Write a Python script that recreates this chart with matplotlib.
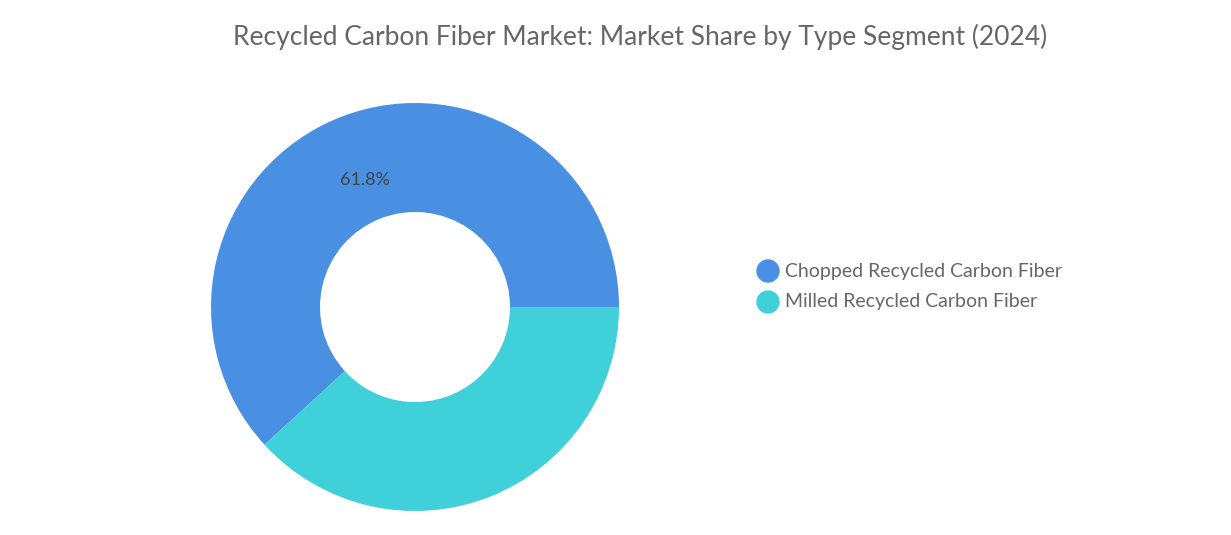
import matplotlib
matplotlib.use("Agg")
import matplotlib.pyplot as plt

categories = ["Chopped Recycled Carbon Fiber", "Milled Recycled Carbon Fiber"]
shares = [61.8, 38.2]
colors = ["#4A90E2", "#40D0DA"]

W, H = 1231, 535
fig = plt.figure(figsize=(W/100, H/100), dpi=100)
plt.rcParams['font.family'] = ['Lato', 'DejaVu Sans']

cx, cy, R = 415, 307, 204
box = 220
ax = fig.add_axes([(cx-box)/W, (H-cy-box)/H, 2*box/W, 2*box/H])
ax.pie(shares, colors=colors, startangle=0, counterclock=True, radius=R,
       wedgeprops=dict(width=R-95, linewidth=0))
ax.set_xlim(-box, box); ax.set_ylim(-box, box); ax.set_aspect('equal'); ax.axis('off')
ax.text(-50, 127, f"{shares[0]}%", ha='center', va='center', fontsize=13, color='#444444')

fig.text(640/W, 1-37/H, "Recycled Carbon Fiber Market: Market Share by Type Segment (2024)",
         ha='center', va='center', fontsize=19, color='#666666')
for i, (c, col) in enumerate(zip(categories, colors)):
    y = 1-(271+31*i)/H
    fig.patches.append(plt.Circle((768/W*W, y*H), 11, color=col, transform=None, figure=fig))
    fig.text(785/W, y, c, ha='left', va='center', fontsize=14, color='#666666')
fig.savefig("out.png", dpi=100)
